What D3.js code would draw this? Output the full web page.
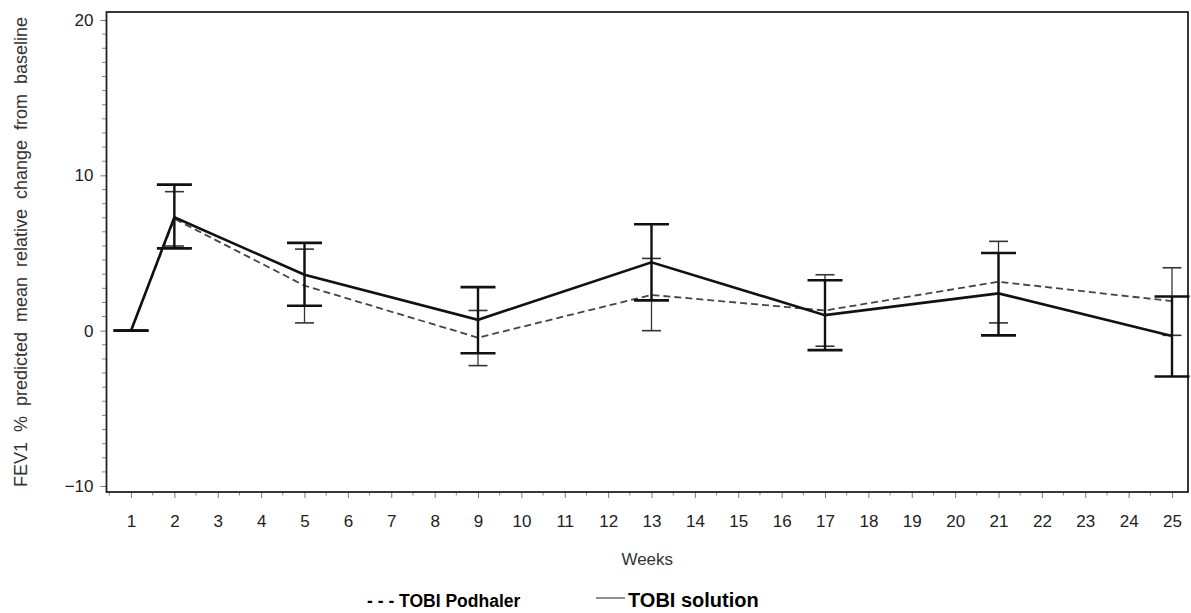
<!DOCTYPE html>
<html>
<head>
<meta charset="utf-8">
<script src="https://cdn.jsdelivr.net/npm/d3@7"></script>
<style>
  body { margin: 0; background: #fff; }
  svg { display: block; font-family: "Liberation Sans", Arial, Helvetica, sans-serif; }
</style>
</head>
<body>
<svg id="chart"></svg>
<script>
// values
var weeks = [1, 2, 5, 9, 13, 17, 21, 25];

var solutionMean  = [0, 7.3, 3.6, 0.7, 4.4, 1.0, 2.4, -0.35];
var solutionLower = [0, 5.3, 1.6, -1.45, 1.95, -1.25, -0.3, -2.95];
var solutionUpper = [0, 9.4, 5.65, 2.8, 6.85, 3.25, 5.0, 2.2];

var podhalerMean  = [0, 7.2, 2.9, -0.45, 2.3, 1.3, 3.15, 1.9];
var podhalerLower = [0, 5.45, 0.5, -2.25, 0.0, -1.0, 0.5, -0.3];
var podhalerUpper = [0, 8.95, 5.25, 1.3, 4.65, 3.6, 5.75, 4.05];

var xTickWeeks = d3.range(1, 26);
var yTickValues = [-10, 0, 10, 20];

var width = 1191,
    height = 613,
    frame = {left: 106.5, top: 12, right: 1188, bottom: 492};

var svg = d3.select("#chart")
    .attr("width", width)
    .attr("height", height);

var x = d3.scaleLinear()
    .domain([1, 25])
    .range([131, 1172]);

var y = d3.scaleLinear()
    .domain([-10, 20])
    .range([486, 20]);

// minor ticks: half weeks on x, ten between each major on y
var xMinor = d3.range(0.5, 25.5, 1).filter(d => x(d) > frame.left && x(d) < frame.right);
var yMinor = [];
for (var i = 0; i < yTickValues.length - 1; i++) {
    for (var k = 1; k <= 10; k++) {
        yMinor.push(yTickValues[i] + k * (yTickValues[i + 1] - yTickValues[i]) / 11);
    }
}

// x axis
var xAxis = svg.append("g")
    .attr("transform", `translate(0, ${frame.bottom})`)
    .call(d3.axisBottom(x).tickValues(xTickWeeks).tickFormat(d3.format("d"))
        .tickSize(6).tickSizeOuter(0).tickPadding(17));
xAxis.select(".domain").remove();
xAxis.selectAll(".tick line").attr("stroke", "#777");
xAxis.selectAll(".tick text")
    .attr("fill", "#222")
    .style("font-size", "17px");

svg.append("g")
    .attr("transform", `translate(0, ${frame.bottom})`)
    .selectAll("line")
    .data(xMinor)
    .join("line")
    .attr("x1", d => x(d)).attr("x2", d => x(d))
    .attr("y1", 0).attr("y2", 3.5)
    .attr("stroke", "#888");

// y axis
var yAxis = svg.append("g")
    .attr("transform", `translate(${frame.left}, 0)`)
    .call(d3.axisLeft(y).tickValues(yTickValues)
        .tickSize(6).tickSizeOuter(0).tickPadding(7));
yAxis.select(".domain").remove();
yAxis.selectAll(".tick line").attr("stroke", "#777");
yAxis.selectAll(".tick text")
    .attr("fill", "#222")
    .style("font-size", "17px");

svg.append("g")
    .attr("transform", `translate(${frame.left}, 0)`)
    .selectAll("line")
    .data(yMinor)
    .join("line")
    .attr("x1", -4.5).attr("x2", 0)
    .attr("y1", d => y(d)).attr("y2", d => y(d))
    .attr("stroke", "#888");

// frame
svg.append("rect")
    .attr("x", frame.left)
    .attr("y", frame.top)
    .attr("width", frame.right - frame.left)
    .attr("height", frame.bottom - frame.top)
    .attr("fill", "none")
    .attr("stroke", "#222")
    .attr("stroke-width", 1.8);

// axis labels
svg.append("text")
    .attr("transform", `translate(27, ${(frame.top + frame.bottom) / 2}) rotate(-90)`)
    .attr("text-anchor", "middle")
    .attr("fill", "#333")
    .style("font-size", "18px")
    .style("word-spacing", "5px")
    .text("FEV1 % predicted mean relative change from baseline");

svg.append("text")
    .attr("x", (frame.left + frame.right) / 2)
    .attr("y", 565)
    .attr("text-anchor", "middle")
    .attr("fill", "#333")
    .style("font-size", "17px")
    .text("Weeks");

// series
var makeRows = (mean, lower, upper) => weeks.map((w, i) => ({
    week: w, mean: mean[i], lower: lower[i], upper: upper[i]
}));

var podhaler = makeRows(podhalerMean, podhalerLower, podhalerUpper);
var solution = makeRows(solutionMean, solutionLower, solutionUpper);

var line = d3.line()
    .x(d => x(d.week))
    .y(d => y(d.mean));

let drawSeries = (rows, style) => {
    var g = svg.append("g");

    g.append("path")
        .datum(rows)
        .attr("d", line)
        .attr("fill", "none")
        .attr("stroke", style.lineColor)
        .attr("stroke-width", style.lineWidth)
        .attr("stroke-dasharray", style.dash);

    var bars = g.selectAll(".bar")
        .data(rows)
        .join("g")
        .attr("class", "bar")
        .attr("stroke", style.barColor);

    bars.append("line")
        .attr("x1", d => x(d.week)).attr("x2", d => x(d.week))
        .attr("y1", d => y(d.lower)).attr("y2", d => y(d.upper))
        .attr("stroke-width", style.barWidth);

    [d => d.lower, d => d.upper].forEach(acc => {
        bars.append("line")
            .attr("x1", d => x(d.week) - style.cap / 2)
            .attr("x2", d => x(d.week) + style.cap / 2)
            .attr("y1", d => y(acc(d))).attr("y2", d => y(acc(d)))
            .attr("stroke-width", style.capWidth);
    });
};

drawSeries(podhaler, {
    lineColor: "#444", lineWidth: 1.8, dash: "7,4",
    barColor: "#333", barWidth: 1.3, cap: 19, capWidth: 1.6
});

drawSeries(solution, {
    lineColor: "#111", lineWidth: 2.6, dash: null,
    barColor: "#111", barWidth: 2.4, cap: 35, capWidth: 2.6
});

// legend
svg.append("text")
    .attr("x", 367)
    .attr("y", 607)
    .attr("fill", "#000")
    .style("font-size", "17.5px")
    .style("font-weight", "bold")
    .text("- - - TOBI Podhaler");

svg.append("line")
    .attr("x1", 596).attr("x2", 625)
    .attr("y1", 598).attr("y2", 598)
    .attr("stroke", "#222")
    .attr("stroke-width", 1);

svg.append("text")
    .attr("x", 628)
    .attr("y", 607)
    .attr("fill", "#000")
    .style("font-size", "20px")
    .style("font-weight", "bold")
    .text("TOBI solution");
</script>
</body>
</html>
